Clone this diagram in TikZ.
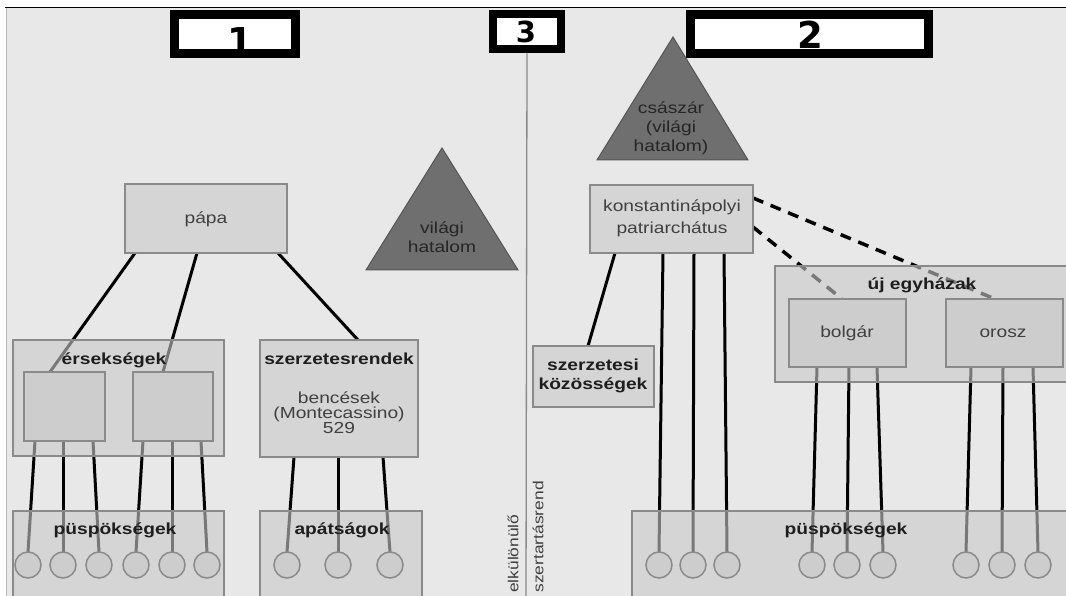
\documentclass[tikz,border=0pt]{standalone}
\usepackage{fontspec}
\setmainfont{Liberation Sans}[FakeStretch=1.2]
\newfontfamily\numfont{DejaVu Sans}
\usetikzlibrary{calc}
\pgfdeclarelayer{bg}
\pgfdeclarelayer{lines}
\pgfsetlayers{bg,lines,main}
\definecolor{bgc}{HTML}{E8E8E8}
\definecolor{boxc}{HTML}{D5D5D5}
\definecolor{innerc}{HTML}{CDCDCD}
\definecolor{bordc}{HTML}{8A8A8A}
\definecolor{contc}{rgb}{0.79,0.79,0.79}
\definecolor{trif}{HTML}{6F6F6F}
\definecolor{trid}{HTML}{555555}
\definecolor{txt}{HTML}{404040}
\definecolor{btxt}{HTML}{1E1E1E}
\definecolor{tritxt}{HTML}{262626}
\tikzset{
  box/.style={draw=bordc, line width=1.5pt, fill=boxc, inner sep=0pt, outer sep=0pt},
  inbox/.style={box, fill=innerc},
  cont/.style={draw=bordc, line width=1.5pt, fill=contc, fill opacity=0.6, draw opacity=1, inner sep=0pt, outer sep=0pt},
  hole/.style={circle, draw=bordc, line width=1.5pt, fill=innerc, minimum size=26pt, inner sep=0pt, outer sep=0pt},
  conn/.style={line width=3pt, black},
  dconn/.style={line width=3.5pt, black, dash pattern=on 11pt off 8pt},
  lbl/.style={font=\fontsize{16}{19}\selectfont\bfseries, text=btxt, inner sep=0pt},
  txtn/.style={font=\fontsize{16}{20}\selectfont, text=txt, align=center, inner sep=0pt},
  tritext/.style={font=\fontsize{16}{19}\selectfont, text=tritxt, align=center, inner sep=0pt},
  numframe/.style={draw=black, line width=9pt, fill=white, inner sep=0pt},
  num/.style={font=\numfont\bfseries, inner sep=0pt, anchor=base},
  tri/.style={fill=trif, draw=trid, line width=1pt},
  rot/.style={rotate=90, font=\fontsize{14.5}{17}\selectfont, text=txt, inner sep=0pt},
  sep/.style={draw=bordc, line width=1.3pt}
}
\begin{document}
\begin{tikzpicture}[x=1pt,y=-1pt]
\useasboundingbox (0,0) rectangle (1066,596);
\begin{pgfonlayer}{bg}
  \fill[white] (0,0) rectangle (1066,596);
  \fill[bgc] (6,8) rectangle (1066,596);
  \draw[black, line width=1pt] (5,7.5) -- (1066,7.5);
  \draw[gray!55, line width=1pt] (6.5,8) -- (6.5,596);
\end{pgfonlayer}

% triangles
\draw[tri] (442,148) -- (366,270) -- (518,270) -- cycle;
\node[tritext] (vh) at (442,237) {világi\\hatalom};
\draw[tri] (673,37) -- (597,160) -- (748,160) -- cycle;
\node[tritext] (cs) at (671,128) {császár\\(világi\\hatalom)};

% number frames
\node[numframe, minimum width=121pt, minimum height=39pt] (f1) at (235,34) {};
\node[num, font=\fontsize{37}{37}\numfont\bfseries] (n1) at (240,55) {1};
\node[numframe, line width=8pt, minimum width=68pt, minimum height=35pt] (f3) at (527,32) {};
\node[num, font=\fontsize{29}{29}\numfont\bfseries] (n3) at (526,43) {3};
\node[numframe, minimum width=238pt, minimum height=39.5pt] (f2) at (809.5,34.25) {};
\node[num, font=\fontsize{37}{37}\numfont\bfseries] (n2) at (810,49) {2};

% left side
\node[box, minimum width=162pt, minimum height=69pt] (papa) at (206,218.5) {};
\node[txtn] (papat) at (206,219) {pápa};
\node[cont, minimum width=211pt, minimum height=116pt] (ersek) at (118.5,398) {};
\node[inbox, minimum width=81pt, minimum height=69pt] (ersL) at (64.5,406.5) {};
\node[inbox, minimum width=80pt, minimum height=69pt] (ersR) at (173,406.5) {};
\node[lbl] (ersekt) at (114,360) {érsekségek};
\node[box, minimum width=158pt, minimum height=117pt] (szr) at (339,398.5) {};
\node[lbl] (szrt) at (339,359) {szerzetesrendek};
\node[txtn, font=\fontsize{16}{15}\selectfont] (benc) at (339,413) {bencések\\(Montecassino)\\529};
\node[cont, minimum width=211pt, minimum height=95pt] (puspL) at (118.5,558.5) {};
\node[lbl] (puspLt) at (115,530) {püspökségek};
\node[cont, minimum width=162pt, minimum height=95pt] (apat) at (341,558.5) {};
\node[lbl] (apatt) at (342,530) {apátságok};
\foreach \n/\x in {c1/28,c2/63,c3/99,c4/136,c5/172,c6/207,a1/287,a2/338,a3/390}
  \node[hole] (\n) at (\x,565) {};

% right side
\node[box, minimum width=163pt, minimum height=68pt] (konst) at (671.5,219) {};
\node[txtn, font=\fontsize{16}{22}\selectfont] (konstt) at (672,218) {konstantinápolyi\\patriarchátus};
\node[box, minimum width=121pt, minimum height=61pt] (szk) at (593.5,376.5) {};
\node[lbl, align=center] (szkt) at (593,375.5) {szerzetesi\\közösségek};
\node[cont, minimum width=300pt, minimum height=116pt] (uj) at (925,324) {};
\node[lbl] (ujt) at (922,285) {új egyházak};
\node[inbox, minimum width=117pt, minimum height=68pt] (bolg) at (847.5,333) {};
\node[txtn] (bolgt) at (847,333) {bolgár};
\node[inbox, minimum width=117pt, minimum height=68pt] (orosz) at (1004.5,333) {};
\node[txtn] (oroszt) at (1003,333) {orosz};
\node[cont, minimum width=443pt, minimum height=95pt] (puspR) at (853.5,558.5) {};
\node[lbl] (puspRt) at (846,530) {püspökségek};
\foreach \n/\x in {k1/659,k2/693,k3/727,b1/812,b2/847,b3/883,o1/966,o2/1002,o3/1038}
  \node[hole] (\n) at (\x,565) {};

% separator
\coordinate (vb) at (526,600);
\node[rot, anchor=west] (elk) at (513,593) {elkülönülő};
\node[rot, anchor=east] (szt) at (538,481) {szertartásrend};

\begin{pgfonlayer}{lines}
  \draw[sep] (f3.south) -- (vb);
  % papa
  \draw[conn] ([xshift=10pt]papa.south west) -- ([xshift=26pt]ersL.north west);
  \draw[conn] ([xshift=72pt]papa.south west) -- ([xshift=30pt]ersR.north west);
  \draw[conn] ([xshift=153pt]papa.south west) -- ([xshift=98pt]szr.north west);
  % ersek -> pusp
  \draw[conn] ([xshift=11pt]ersL.south west) -- (c1.north);
  \draw[conn] ([xshift=39pt]ersL.south west) -- (c2.north);
  \draw[conn] ([xshift=69pt]ersL.south west) -- (c3.north);
  \draw[conn] ([xshift=10pt]ersR.south west) -- (c4.north);
  \draw[conn] ([xshift=39pt]ersR.south west) -- (c5.north);
  \draw[conn] ([xshift=68pt]ersR.south west) -- (c6.north);
  % szerzetesrendek -> apatsagok
  \draw[conn] ([xshift=34pt]szr.south west) -- (a1.north);
  \draw[conn] ([xshift=78pt]szr.south west) -- (a2.north);
  \draw[conn] ([xshift=123pt]szr.south west) -- (a3.north);
  % konst
  \draw[conn] ([xshift=25pt]konst.south west) -- ([xshift=55pt]szk.north west);
  \draw[conn] ([xshift=73pt]konst.south west) -- (k1.north);
  \draw[conn] ([xshift=104pt]konst.south west) -- (k2.north);
  \draw[conn] ([xshift=134pt]konst.south west) -- (k3.north);
  \draw[dconn] ([yshift=-13pt]konst.north east) -- ([xshift=49pt]orosz.north west);
  \draw[dconn] ([yshift=-42pt]konst.north east) -- ([xshift=53pt]bolg.north west);
  % bolgar, orosz
  \draw[conn] ([xshift=28pt]bolg.south west) -- (b1.north);
  \draw[conn] ([xshift=60pt]bolg.south west) -- (b2.north);
  \draw[conn] ([xshift=88pt]bolg.south west) -- (b3.north);
  \draw[conn] ([xshift=25pt]orosz.south west) -- (o1.north);
  \draw[conn] ([xshift=57pt]orosz.south west) -- (o2.north);
  \draw[conn] ([xshift=87pt]orosz.south west) -- (o3.north);
\end{pgfonlayer}
\end{tikzpicture}
\end{document}
